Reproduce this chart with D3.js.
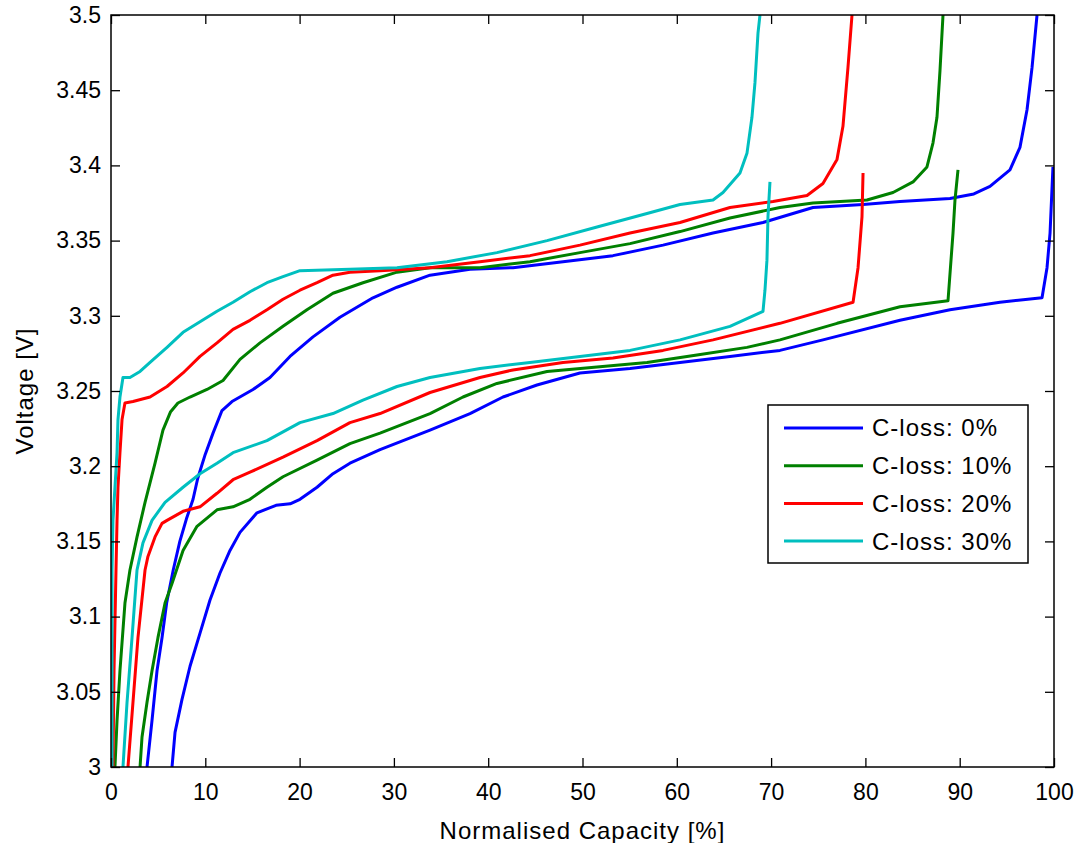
<!DOCTYPE html>
<html>
<head>
<meta charset="utf-8">
<script src="https://cdn.jsdelivr.net/npm/d3@7"></script>
<style>
  html, body { margin: 0; padding: 0; background: #fff; }
  svg { display: block; }
  text { font-family: "Liberation Sans", Arial, Helvetica, sans-serif; fill: #000; }
</style>
</head>
<body>
<svg id="chart" width="1079" height="843"></svg>
<script>
// ---------------- data ----------------
const xTicks = [0, 10, 20, 30, 40, 50, 60, 70, 80, 90, 100];
const yTicks = [3, 3.05, 3.1, 3.15, 3.2, 3.25, 3.3, 3.35, 3.4, 3.45, 3.5];
const yTickLabels = ["3", "3.05", "3.1", "3.15", "3.2", "3.25", "3.3", "3.35", "3.4", "3.45", "3.5"];
const seriesNames = ["C-loss: 0%", "C-loss: 10%", "C-loss: 20%", "C-loss: 30%"];
const seriesColors = ["#0000ff", "#008000", "#ff0000", "#00bfbf"];

// [capacity %, voltage V]
const loss0Charge = [[3.82,3.000],[4.35,3.031],[4.88,3.064],[5.41,3.086],[5.9,3.109],[6.6,3.131],[7.3,3.150],[8.0,3.165],[8.7,3.178],[9.2,3.192],[10.0,3.208],[10.82,3.222],[11.77,3.237],[12.83,3.243],[15.06,3.251],[16.86,3.259],[18.98,3.273],[21.42,3.286],[24.28,3.299],[27.78,3.312],[30.33,3.319],[33.83,3.327],[38.07,3.331],[42.63,3.332],[47.93,3.336],[53.23,3.340],[58.54,3.347],[63.84,3.355],[69.14,3.362],[74.44,3.372],[79.75,3.374],[83.67,3.376],[88.97,3.378],[91.5,3.381],[93.21,3.386],[95.33,3.397],[96.39,3.412],[97.14,3.437],[97.67,3.465],[98.2,3.5]];
const loss0Discharge = [[6.47,3.000],[6.79,3.023],[7.53,3.045],[8.38,3.067],[9.44,3.089],[10.50,3.111],[11.56,3.129],[12.62,3.144],[13.68,3.156],[15.48,3.169],[17.5,3.174],[19.0,3.175],[20.04,3.178],[21.85,3.186],[23.54,3.195],[25.34,3.202],[28.53,3.211],[33.83,3.224],[38.07,3.235],[41.57,3.246],[45.17,3.254],[49.73,3.262],[55.04,3.265],[60.34,3.269],[65.64,3.273],[70.94,3.277],[75.50,3.284],[83.67,3.297],[88.97,3.304],[94.27,3.309],[98.73,3.312],[99.26,3.332],[99.58,3.355],[99.89,3.399]];

const loss10Charge = [[0.42,3.000],[0.64,3.031],[0.95,3.064],[1.48,3.109],[2.01,3.131],[2.76,3.153],[3.61,3.176],[4.67,3.202],[5.51,3.224],[6.3,3.236],[7.10,3.242],[8.38,3.246],[10.18,3.251],[11.88,3.257],[13.68,3.271],[15.80,3.282],[18.24,3.293],[20.78,3.304],[23.54,3.315],[26.72,3.322],[30.33,3.329],[33.83,3.332],[39.13,3.332],[44.43,3.336],[49.73,3.342],[55.04,3.348],[60.34,3.356],[65.64,3.365],[70.94,3.372],[74.44,3.375],[80.17,3.377],[82.93,3.382],[85.05,3.389],[86.53,3.399],[87.17,3.415],[87.59,3.432],[87.91,3.463],[88.23,3.5]];
const loss10Discharge = [[3.08,3.000],[3.29,3.020],[3.82,3.043],[4.35,3.064],[4.98,3.086],[5.73,3.109],[6.47,3.122],[7.64,3.144],[9.12,3.160],[11.24,3.171],[12.94,3.173],[14.74,3.178],[16.54,3.186],[18.24,3.193],[21.85,3.204],[25.34,3.215],[28.53,3.222],[33.83,3.235],[37.33,3.246],[40.93,3.255],[46.24,3.263],[51.54,3.266],[56.84,3.269],[62.14,3.274],[67.44,3.279],[70.94,3.284],[77.0,3.295],[83.67,3.306],[88.76,3.310],[89.29,3.355],[89.50,3.377],[89.82,3.397]];

const loss20Charge = [[0.21,3.000],[0.32,3.064],[0.53,3.131],[0.64,3.164],[0.74,3.186],[0.95,3.209],[1.17,3.231],[1.48,3.242],[2.33,3.243],[4.14,3.246],[5.94,3.253],[7.64,3.262],[9.44,3.273],[11.24,3.282],[12.94,3.291],[14.74,3.297],[16.54,3.304],[18.24,3.311],[20.04,3.317],[21.85,3.322],[23.54,3.327],[25.34,3.329],[28.53,3.330],[33.83,3.332],[39.13,3.336],[44.43,3.340],[49.73,3.347],[55.04,3.355],[60.34,3.362],[65.64,3.372],[70.20,3.376],[73.81,3.380],[75.50,3.388],[76.99,3.404],[77.62,3.426],[78.15,3.465],[78.58,3.5]];
const loss20Discharge = [[1.8,3.000],[2.33,3.043],[2.86,3.086],[3.61,3.131],[3.92,3.140],[4.67,3.153],[5.41,3.162],[5.94,3.164],[7.64,3.170],[9.44,3.173],[11.24,3.182],[12.94,3.191],[14.74,3.196],[18.24,3.206],[21.85,3.217],[25.34,3.229],[28.53,3.235],[33.83,3.249],[39.13,3.259],[42.63,3.264],[47.93,3.269],[53.23,3.272],[58.54,3.277],[63.84,3.284],[70.94,3.295],[78.69,3.309],[79.22,3.332],[79.64,3.366],[79.75,3.395]];

const loss30Charge = [[0.11,3.000],[0.11,3.131],[0.21,3.164],[0.42,3.186],[0.64,3.209],[0.74,3.231],[0.95,3.246],[1.27,3.259],[2.01,3.259],[3.08,3.263],[4.14,3.269],[5.94,3.279],[7.64,3.289],[9.44,3.296],[11.24,3.303],[12.94,3.309],[14.74,3.316],[16.54,3.322],[18.24,3.326],[20.04,3.330],[25.34,3.331],[30.33,3.332],[35.63,3.336],[40.93,3.342],[46.24,3.350],[51.54,3.359],[56.84,3.368],[60.34,3.374],[63.84,3.377],[64.90,3.382],[66.70,3.395],[67.44,3.408],[67.97,3.432],[68.29,3.455],[68.61,3.488],[68.82,3.5]];
const loss30Discharge = [[1.27,3.000],[1.70,3.043],[2.23,3.086],[2.76,3.131],[3.39,3.149],[4.35,3.164],[5.73,3.176],[7.64,3.186],[9.44,3.195],[11.24,3.202],[12.94,3.209],[16.54,3.217],[20.04,3.229],[23.54,3.235],[26.72,3.244],[30.33,3.253],[33.83,3.259],[39.13,3.265],[44.43,3.269],[49.73,3.273],[55.04,3.277],[60.34,3.284],[65.64,3.293],[69.14,3.303],[69.35,3.317],[69.56,3.337],[69.67,3.366],[69.88,3.389]];

const seriesCurves = [
  [loss0Charge, loss0Discharge],
  [loss10Charge, loss10Discharge],
  [loss20Charge, loss20Discharge],
  [loss30Charge, loss30Discharge]
];

// ---------------- layout ----------------
const plot = { left: 111, right: 1054, top: 15, bottom: 767 };
const svg = d3.select("#chart");

const x = d3.scaleLinear().domain([0, 100]).range([plot.left, plot.right]);
const y = d3.scaleLinear().domain([3, 3.5]).range([plot.bottom, plot.top]);

svg.append("rect").attr("x", 0).attr("y", 0).attr("width", 1079).attr("height", 843).attr("fill", "#fff");

svg.append("clipPath").attr("id", "clip")
  .append("rect").attr("x", plot.left).attr("y", plot.top)
  .attr("width", plot.right - plot.left).attr("height", plot.bottom - plot.top);

// curves
const line = d3.line().x(d => x(d[0])).y(d => y(d[1]));
const curvesG = svg.append("g").attr("clip-path", "url(#clip)");
seriesCurves.forEach((curves, i) => {
  curves.forEach(c => {
    curvesG.append("path")
      .datum(c)
      .attr("d", line)
      .attr("fill", "none")
      .attr("stroke", seriesColors[i])
      .attr("stroke-width", 3)
      .attr("stroke-linejoin", "round")
      .attr("stroke-linecap", "butt");
  });
});

// axes (MATLAB-style inward ticks on all four sides)
const tickLen = 9;
const fmtY = (d, i) => yTickLabels[i];

const gBottom = svg.append("g").attr("transform", `translate(0,${plot.bottom})`)
  .call(d3.axisBottom(x).tickValues(xTicks).tickSizeInner(-tickLen).tickSizeOuter(0).tickPadding(17));
const gLeft = svg.append("g").attr("transform", `translate(${plot.left},0)`)
  .call(d3.axisLeft(y).tickValues(yTicks).tickFormat(fmtY).tickSizeInner(-tickLen).tickSizeOuter(0).tickPadding(10));
const gTop = svg.append("g").attr("transform", `translate(0,${plot.top})`)
  .call(d3.axisTop(x).tickValues(xTicks).tickFormat("").tickSizeInner(-tickLen).tickSizeOuter(0));
const gRight = svg.append("g").attr("transform", `translate(${plot.right},0)`)
  .call(d3.axisRight(y).tickValues(yTicks).tickFormat("").tickSizeInner(-tickLen).tickSizeOuter(0));

[gBottom, gLeft, gTop, gRight].forEach(g => {
  g.selectAll(".domain").remove();
  g.selectAll(".tick line").attr("stroke", "#000").attr("stroke-width", 1.3);
  g.selectAll(".tick text")
    .attr("fill", "#000")
    .style("font-family", '"Liberation Sans", Arial, sans-serif')
    .style("font-size", "23px");
});

svg.append("rect")
  .attr("x", plot.left).attr("y", plot.top)
  .attr("width", plot.right - plot.left).attr("height", plot.bottom - plot.top)
  .attr("fill", "none").attr("stroke", "#000").attr("stroke-width", 1.5);

// axis titles
svg.append("text")
  .attr("x", (plot.left + plot.right) / 2)
  .attr("y", 839)
  .attr("text-anchor", "middle")
  .style("font-size", "24px")
  .style("letter-spacing", "1px")
  .text("Normalised Capacity [%]");

svg.append("text")
  .attr("transform", `translate(33,${(plot.top + plot.bottom) / 2}) rotate(-90)`)
  .attr("text-anchor", "middle")
  .style("font-size", "24px")
  .style("letter-spacing", "1px")
  .text("Voltage [V]");

// legend
const legend = { x: 768, y: 405, w: 260, h: 158, rowStart: 428, rowStep: 37.7 };
const lg = svg.append("g");
lg.append("rect")
  .attr("x", legend.x).attr("y", legend.y)
  .attr("width", legend.w).attr("height", legend.h)
  .attr("fill", "#fff").attr("stroke", "#000").attr("stroke-width", 1.5);
seriesNames.forEach((name, i) => {
  const ry = legend.rowStart + i * legend.rowStep;
  lg.append("line")
    .attr("x1", 784).attr("x2", 863).attr("y1", ry).attr("y2", ry)
    .attr("stroke", seriesColors[i]).attr("stroke-width", 3);
  lg.append("text")
    .attr("x", 872).attr("y", ry)
    .attr("dy", "0.35em")
    .style("font-size", "24px")
    .style("letter-spacing", "1px")
    .text(name);
});
</script>
</body>
</html>
